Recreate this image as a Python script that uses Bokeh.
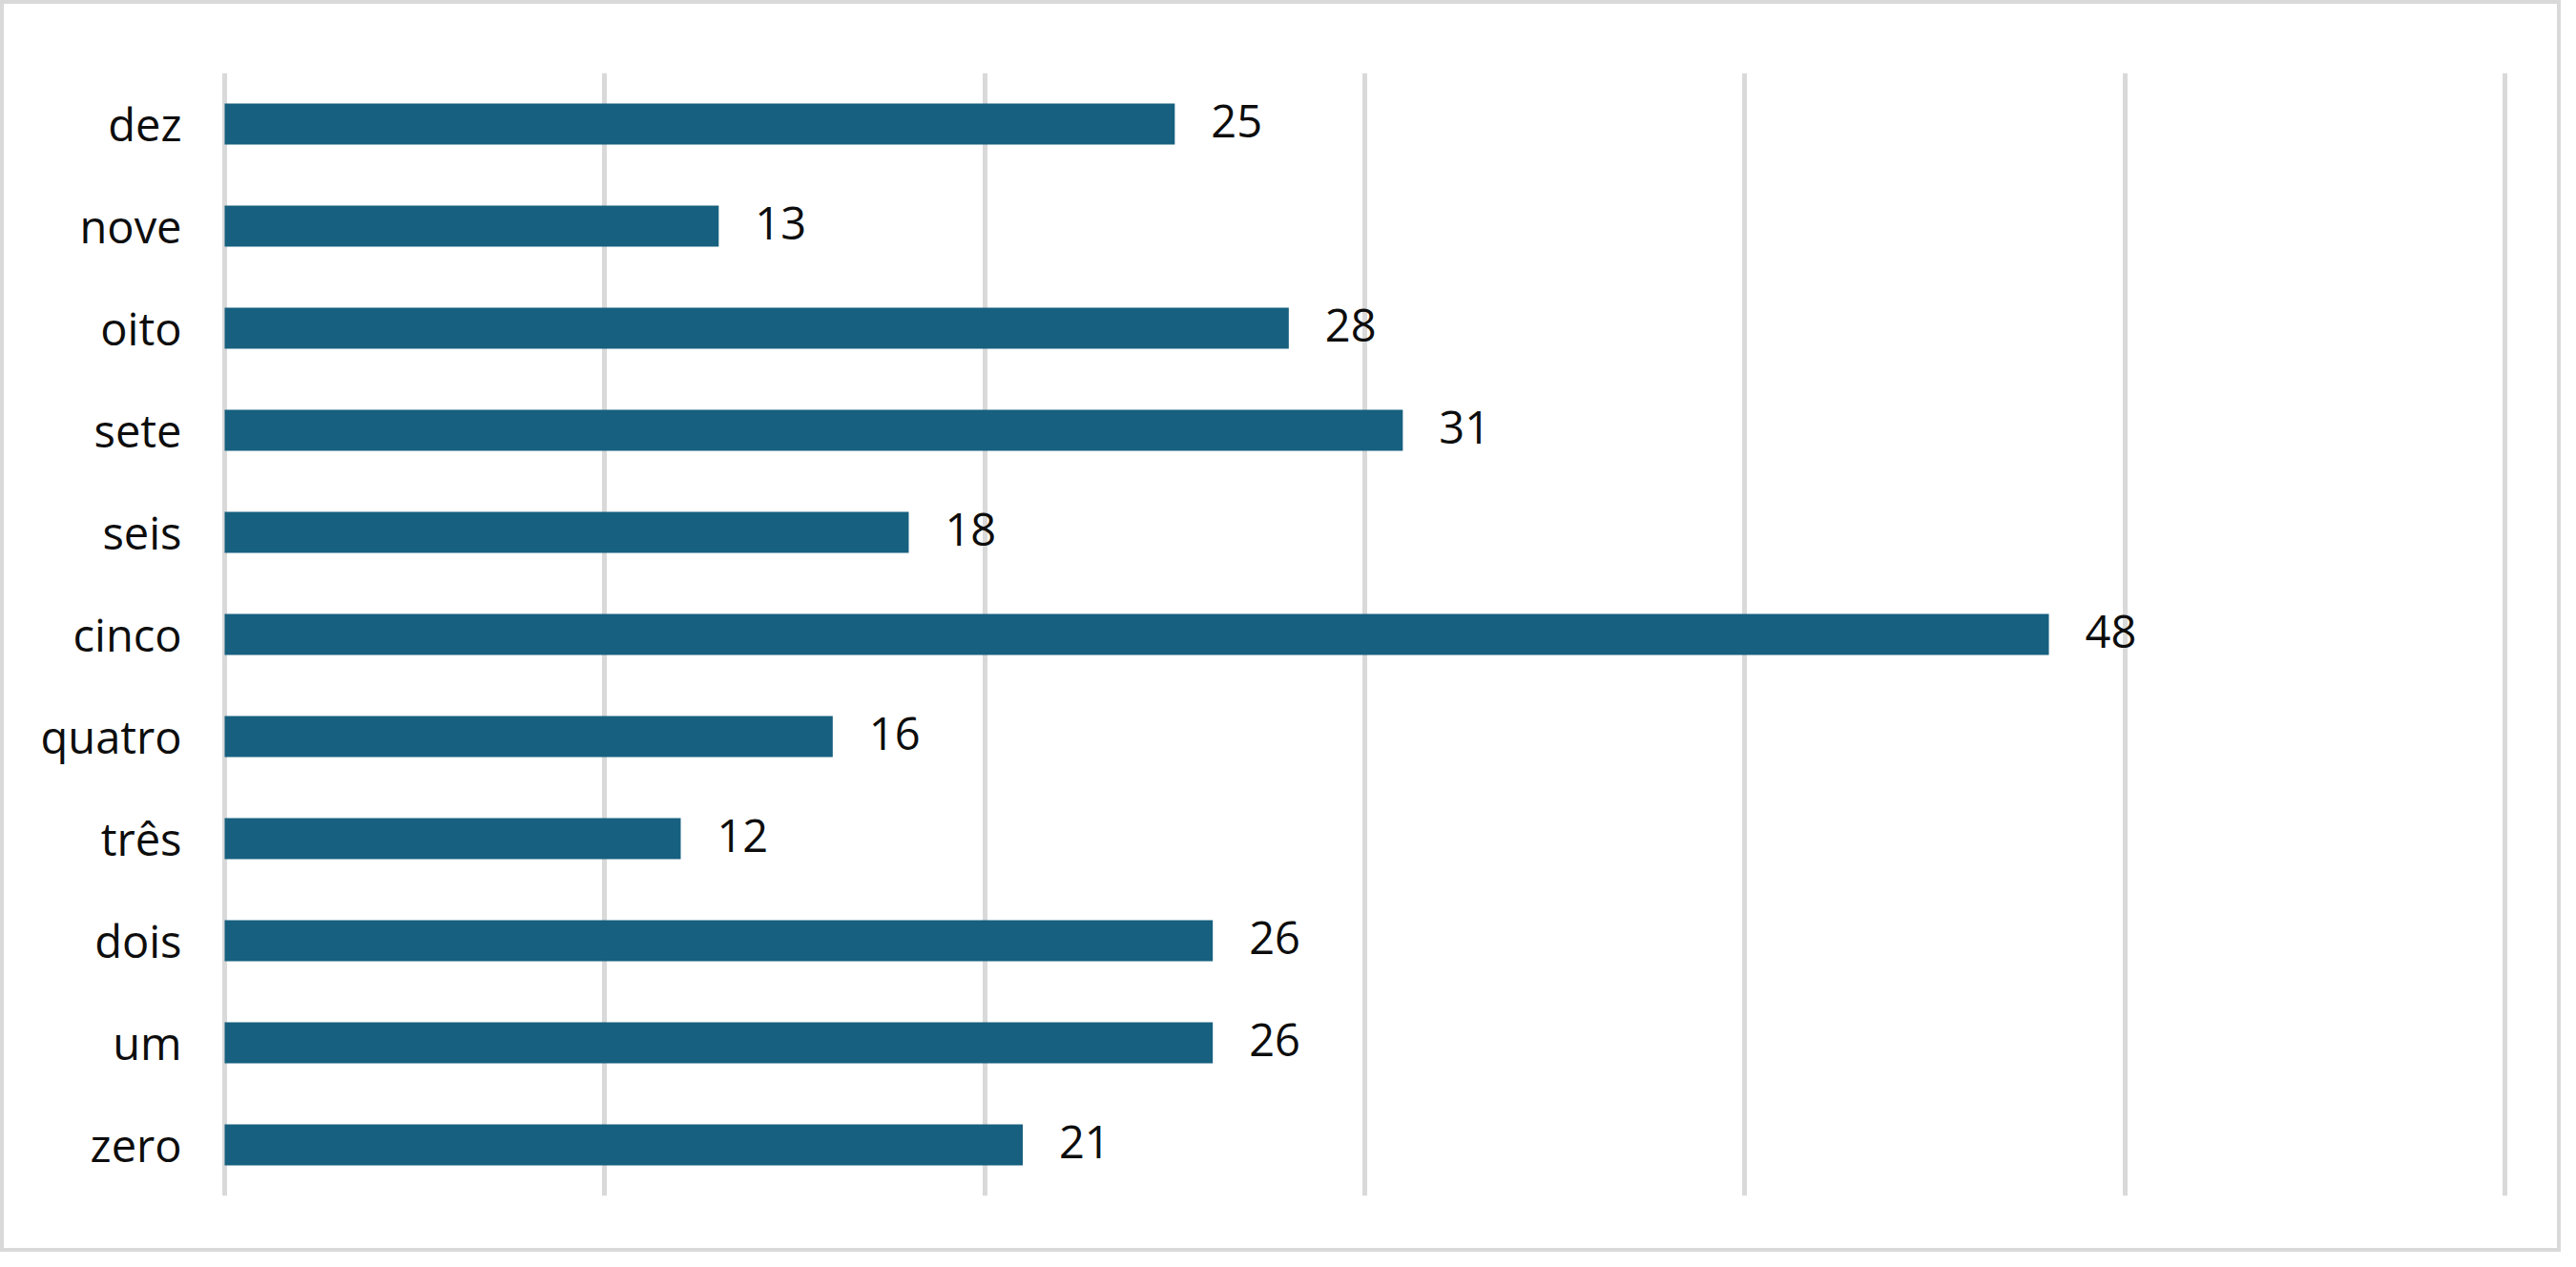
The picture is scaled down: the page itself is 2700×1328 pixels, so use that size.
from bokeh.plotting import figure
from bokeh.models import ColumnDataSource, SingleIntervalTicker, Range1d, FactorRange
from bokeh.core.properties import value
from bokeh.embed import file_html
from bokeh.resources import INLINE

categories = ["zero", "um", "dois", "três", "quatro", "cinco", "seis", "sete", "oito", "nove", "dez"]
values = [21, 26, 26, 12, 16, 48, 18, 31, 28, 13, 25]
labels = [str(v) for v in values]

BAR_COLOR = "#17607f"
GRID_COLOR = "#d9d9d9"
FONT = "Open Sans"

src = ColumnDataSource(dict(cat=categories, val=values, lab=labels))

W, H = 2684, 1312
p = figure(width=W, height=H, y_range=FactorRange(*categories), x_range=Range1d(-0.15, 60.15),
           output_backend="svg", toolbar_location=None,
           min_border_left=225, min_border_right=57, min_border_top=72, min_border_bottom=63)
p.styles = {"border": f"4px solid {GRID_COLOR}"}
p.outline_line_color = None
p.background_fill_color = "white"
p.border_fill_color = "white"

p.hbar(y="cat", right="val", left=0, height=0.4, source=src, color=BAR_COLOR, line_color=None)
p.text(x="val", y="cat", text="lab", source=src, x_offset=38, y_offset=-3, text_align="left",
       text_baseline="middle", text_font=value(FONT), text_font_size="47px", text_color="#0d0d0d")

p.xaxis.visible = False
p.xgrid.ticker = SingleIntervalTicker(interval=10)
p.xgrid.grid_line_color = GRID_COLOR
p.xgrid.grid_line_width = 5
p.ygrid.grid_line_color = None

ax = p.yaxis[0]
ax.axis_line_color = None
ax.major_tick_line_color = None
ax.minor_tick_line_color = None
ax.major_tick_out = 0
ax.major_tick_in = 0
ax.major_label_standoff = 39
ax.major_label_text_font = FONT
ax.major_label_text_font_size = "47px"
ax.major_label_text_color = "#0d0d0d"

open("out.html", "w").write(file_html(p, INLINE))
